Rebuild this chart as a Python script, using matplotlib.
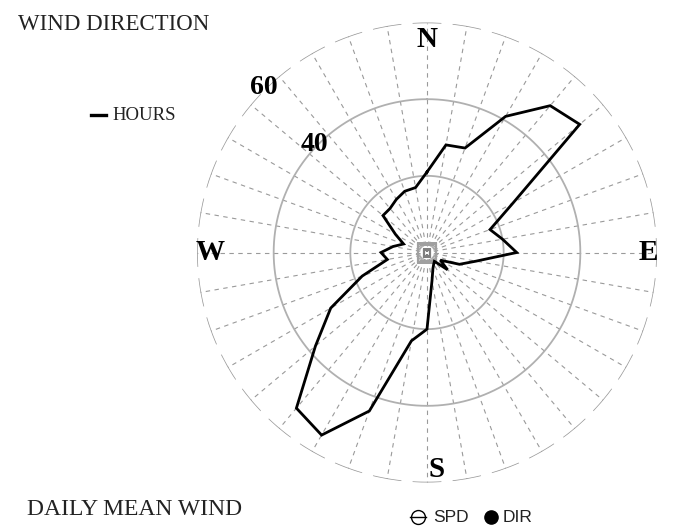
import numpy as np
import matplotlib
matplotlib.use("Agg")
import matplotlib.pyplot as plt
from matplotlib.lines import Line2D

# ---- data (hours per 10-degree direction, clockwise from North) ----
directions_deg = [0, 10, 20, 30, 40, 50, 60, 70, 80, 90, 100, 110,
                  120, 130, 140, 150, 160, 170, 180, 190, 200, 210, 220, 230,
                  240, 250, 260, 270, 280, 290, 300, 310, 320, 330, 340, 350]
hours = [21, 28.5, 29, 41, 50, 52, 26, 17.5, 20, 23.4, 13, 9,
         4, 7, 3, 3.5, 4.5, 7.5, 20, 23.4, 44, 55, 53, 38,
         29, 18, 10.5, 12, 9, 6.5, 9.5, 15, 15, 16, 17, 17.2]
ring_values = [20, 40, 60]
ring_labels = ["40", "60"]
compass_labels = ["N", "E", "S", "W"]

W, H = 678, 528
fig = plt.figure(figsize=(W / 100, H / 100), dpi=100)

cx, cy, R = 427, 252.5, 230
ax = fig.add_axes([(cx - R) / W, (H - cy - R) / H, 2 * R / W, 2 * R / H],
                  projection="polar")
ax.set_theta_zero_location("N")
ax.set_theta_direction(-1)
ax.set_ylim(0, 60)
ax.set_axis_off()

grid_col = "#9a9a9a"
ring_col = "#b0b0b0"

# spokes
for d in directions_deg:
    t = np.deg2rad(d)
    ax.plot([t, t], [1.8, 60], color=grid_col, lw=0.8, ls=(0, (4, 4)),
            zorder=1)

# inner rings (solid)
tt = np.linspace(0, 2 * np.pi, 361)
for rv in ring_values[:2]:
    ax.plot(tt, np.full_like(tt, rv), color=ring_col, lw=1.3, zorder=1)

# outer ring (dashed arcs centred on spokes)
for d in directions_deg:
    ta = np.deg2rad(np.linspace(d - 3.4, d + 3.4, 8))
    ax.plot(ta, np.full_like(ta, ring_values[2]), color=grid_col, lw=1.1,
            zorder=1)

# centre square
ax.plot([0], [0], marker="s", ms=13, mfc="none", mec="#a0a0a0", mew=1.6,
        zorder=2)
ax.plot([0], [0], marker="s", ms=5, mfc="none", mec="#808080", mew=1.6,
        zorder=2)

# data polygon
th = np.deg2rad(directions_deg + [directions_deg[0]])
rr = hours + [hours[0]]
ax.plot(th, rr, color="black", lw=2.0, zorder=3, solid_joinstyle="miter")

serif = "Liberation Serif"
sans = "Liberation Sans"

# ring labels
ax.text(np.deg2rad(313.6), 40.7, ring_labels[0], ha="center", va="center",
        fontsize=20, fontweight="bold", family=serif)
ax.text(np.deg2rad(315.4), 60.6, ring_labels[1], ha="center", va="center",
        fontsize=20, fontweight="bold", family=serif)

# compass labels
for lab, ang, r in zip(compass_labels, [0, 90, 177.4, 270],
                       [55.6, 57.7, 56.6, 56.6]):
    ax.text(np.deg2rad(ang), r, lab, ha="center", va="center",
            fontsize=21, fontweight="bold", family=serif)


def fx(x):
    return x / W


def fy(y):
    return 1 - y / H


fig.text(fx(18), fy(29.5), "WIND DIRECTION", ha="left", va="baseline",
         fontsize=16.5, family=serif, color="#222222")
fig.text(fx(27), fy(515), "DAILY MEAN WIND", ha="left", va="baseline",
         fontsize=17, family=serif, color="#222222")

# HOURS legend
fig.add_artist(Line2D([fx(91), fx(106)], [fy(115), fy(115)],
                      transform=fig.transFigure, color="black", lw=2.4))
fig.text(fx(112), fy(119.5), "HOURS", ha="left", va="baseline",
         fontsize=13.5, family=serif, color="#222222")

# SPD / DIR legend
fig.add_artist(Line2D([fx(418)], [fy(516.5)], transform=fig.transFigure,
                      marker="o", ms=10, mfc="none", mec="black", mew=1.0))
fig.add_artist(Line2D([fx(410), fx(426)], [fy(516.5), fy(516.5)],
                      transform=fig.transFigure, color="black", lw=1.0))
fig.text(fx(433), fy(522.5), "SPD", ha="left", va="baseline",
         fontsize=12.5, family=sans, color="#222222")
fig.add_artist(Line2D([fx(490.5)], [fy(517)], transform=fig.transFigure,
                      marker="o", ms=9.5, mfc="black", mec="black"))
fig.text(fx(503), fy(522.5), "DIR", ha="left", va="baseline",
         fontsize=12.5, family=sans, color="#222222")

fig.savefig("out.png", dpi=100)
